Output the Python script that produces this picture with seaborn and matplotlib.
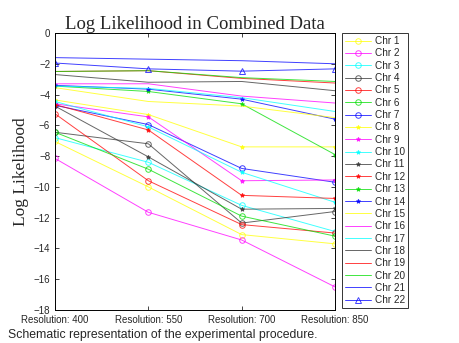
import numpy as np
import pandas as pd
import seaborn as sns
import matplotlib.pyplot as plt
from matplotlib.lines import Line2D

# resolutions on the x axis
resolutions = [400, 550, 700, 850]
res_labels = ['Resolution: 400', 'Resolution: 550', 'Resolution: 700', 'Resolution: 850']

chrom_names = ['Chr %d' % i for i in range(1, 23)]

# log likelihood per chromosome
chr_vals = [
    [-7.05, -10.0, -13.1, -13.7],    # Chr 1
    [-8.15, -11.65, -13.45, -16.5],  # Chr 2
    [-6.8, -8.4, -11.2, -12.9],      # Chr 3
    [-6.45, -7.2, -12.35, -11.6],    # Chr 4
    [-5.25, -9.6, -12.45, -13.0],    # Chr 5
    [-6.45, -8.85, -11.9, -13.2],    # Chr 6
    [-4.7, -5.95, -8.8, -9.7],       # Chr 7
    [-4.35, -5.3, -7.4, -7.4],       # Chr 8
    [-4.6, -5.45, -9.6, -9.55],      # Chr 9
    [-4.45, -6.1, -9.05, -11.0],     # Chr 10
    [-4.75, -8.05, -11.45, -11.4],   # Chr 11
    [-4.65, -6.3, -10.55, -10.75],   # Chr 12
    [-3.45, -3.8, -4.6, -7.9],       # Chr 13
    [-3.4, -3.65, -4.3, -5.6],       # Chr 14
    [-3.55, -4.45, -4.75, -5.5],     # Chr 15
    [-3.3, -3.3, -4.1, -4.55],       # Chr 16
    [-3.45, -3.6, -4.2, -5.1],       # Chr 17
    [-2.7, -3.2, -3.15, -3.75],      # Chr 18
    [-2.5, -2.45, -2.95, -3.25],     # Chr 19
    [-2.5, -2.45, -2.9, -3.15],      # Chr 20
    [-1.6, -1.7, -1.8, -2.0],        # Chr 21
    [-1.95, -2.33, -2.48, -2.33],    # Chr 22
]

base_colors = ['#ffff00', '#ff00ff', '#00ffff', '#333333', '#ff0000', '#00dd00', '#0000ff']
colors = [base_colors[i % 7] for i in range(21)] + ['#0000ff']
markers = ['o'] * 7 + ['*'] * 7 + [''] * 7 + ['^']

rows = []
for name, vals in zip(chrom_names, chr_vals):
    for r, v in zip(resolutions, vals):
        rows.append({'chr': name, 'res': r, 'll': v})
df = pd.DataFrame(rows)

sns.set_style('ticks')
plt.rcParams['font.family'] = ['Liberation Sans', 'DejaVu Sans']

fig = plt.figure(figsize=(4.6, 3.43), dpi=100)
ax = fig.add_axes([55 / 460, 1 - 310 / 343, 280 / 460, 277 / 343])

handles = []
for name, c, m in zip(chrom_names, colors, markers):
    sub = df[df['chr'] == name]
    ms = 4 if m == 'o' else (3.2 if m == '*' else 4.5)
    style = dict(color=c, marker=m if m else None, markersize=ms,
                 markerfacecolor='none' if m in ('o', '^') else c,
                 markeredgecolor=c, markeredgewidth=0.7, linewidth=0.7, alpha=0.75)
    sns.lineplot(data=sub, x='res', y='ll', ax=ax, legend=False, **style)
    handles.append(Line2D([0], [0], label=name, **style))

ax.set_xlim(400, 850)
ax.set_ylim(-18, 0)
ax.set_xticks(resolutions)
ax.set_xticklabels(res_labels)
ax.set_yticks(np.arange(-18, 1, 2))
ax.tick_params(direction='in', labelsize=7, length=3, width=0.6, top=True, right=True)
for s in ax.spines.values():
    s.set_visible(True)
    s.set_linewidth(0.7)
    s.set_color('black')
ax.set_xlabel('')
ax.set_ylabel('Log Likelihood', family='Liberation Serif', fontsize=12.5, labelpad=3)
ax.set_title('Log Likelihood in Combined Data', family='Liberation Serif', fontsize=13.5, pad=3)

leg = fig.legend(handles=handles, loc='upper left', bbox_to_anchor=(342 / 460, 1 - 33 / 343),
                 fontsize=7.2, frameon=True, fancybox=False, edgecolor='black',
                 handlelength=2.6, labelspacing=0.235, borderpad=0.3, handletextpad=0.4,
                 borderaxespad=0)
leg.get_frame().set_linewidth(0.7)

fig.text(8 / 460, 1 - 341 / 343, 'Schematic representation of the experimental procedure.',
         fontsize=8.8, va='bottom')

fig.savefig('out.png', dpi=100)
